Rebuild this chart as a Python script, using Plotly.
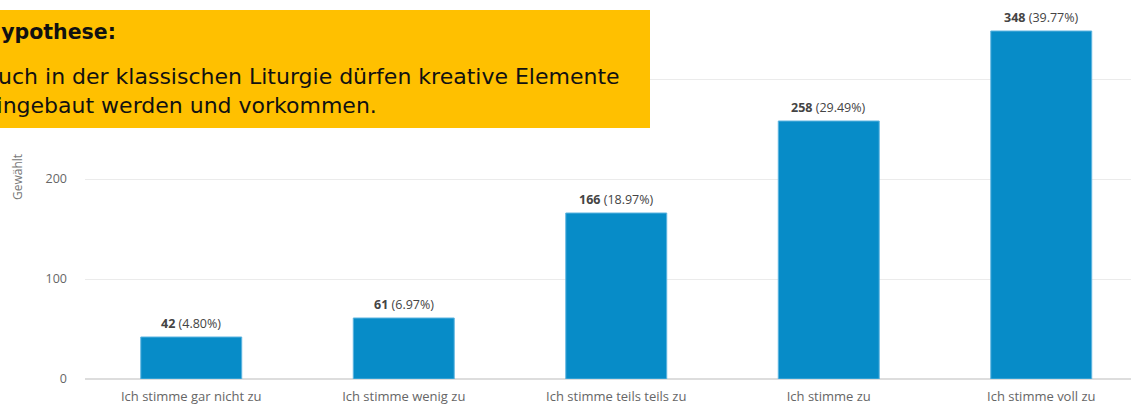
import plotly.graph_objects as go

categories = ["Ich stimme gar nicht zu", "Ich stimme wenig zu", "Ich stimme teils teils zu",
              "Ich stimme zu", "Ich stimme voll zu"]
counts = [42, 61, 166, 258, 348]
percent_labels = ["4.80%", "6.97%", "18.97%", "29.49%", "39.77%"]
y_ticks = [0, 100, 200, 300]
y_title = "Gewählt"
hyp_title = "Hypothese:"
hyp_lines = ["Auch in der klassischen Liturgie dürfen kreative Elemente",
             "eingebaut werden und vorkommen."]

W, H = 1131, 407
L, B, T = 85, 28, 0
PW, PH = W - L, H - B - T

def px(x):
    return (x - L) / PW

def py(y):
    return (H - B - y) / PH

fig = go.Figure(go.Bar(
    x=categories, y=counts,
    marker=dict(color="#078CC8", line=dict(color="#5DB4E0", width=1)),
    width=0.475, hoverinfo="x+y",
))

for c, v, p in zip(categories, counts, percent_labels):
    fig.add_annotation(x=c, y=v, xref="x", yref="y", yanchor="bottom", yshift=3,
                       text=f"<b>{v}</b> ({p})", showarrow=False,
                       font=dict(family="Open Sans", size=12.5, color="#444"))

fig.update_layout(
    width=W, height=H,
    margin=dict(l=L, r=0, t=T, b=B),
    paper_bgcolor="white", plot_bgcolor="white",
    showlegend=False,
    font=dict(family="Open Sans", size=12.5, color="#666"),
    xaxis=dict(range=[-0.5, -0.5 + PW / 212.5], showgrid=False, showline=False,
               ticks="", ticklabelstandoff=8, tickfont=dict(size=13, color="#666")),
    yaxis=dict(range=[0, PH], tickvals=y_ticks, gridcolor="#EBEBEB", gridwidth=1,
               zeroline=True, zerolinecolor="#DDDDDD", zerolinewidth=1.5,
               ticks="", ticklabelstandoff=17, tickfont=dict(size=12.5, color="#666")),
)

fig.add_annotation(xref="paper", yref="paper", x=px(17), y=py(177), xanchor="center", yanchor="middle",
                   text=y_title, textangle=-90, showarrow=False,
                   font=dict(family="Open Sans", size=12, color="#777"))

fig.add_shape(type="rect", xref="paper", yref="paper",
              x0=px(-5), x1=px(650), y0=py(128), y1=py(10),
              fillcolor="#FFC000", line=dict(width=0), layer="above")

hyp_font = dict(family="DejaVu Sans", size=22, color="#111")
fig.add_annotation(xref="paper", yref="paper", x=px(-18.5), y=py(32), xanchor="left", yanchor="middle",
                   text=f"<b>{hyp_title}</b>", showarrow=False,
                   font=dict(family="DejaVu Sans", size=20.5, color="#111"))
fig.add_annotation(xref="paper", yref="paper", x=px(-19), y=py(76), xanchor="left", yanchor="middle",
                   text=hyp_lines[0], showarrow=False, font=hyp_font)
fig.add_annotation(xref="paper", yref="paper", x=px(-19), y=py(106), xanchor="left", yanchor="middle",
                   text=hyp_lines[1], showarrow=False, font=hyp_font)

fig.write_html("out.html", config={"displayModeBar": False},
               post_script="document.body.style.margin='0';document.body.style.overflow='hidden';")
